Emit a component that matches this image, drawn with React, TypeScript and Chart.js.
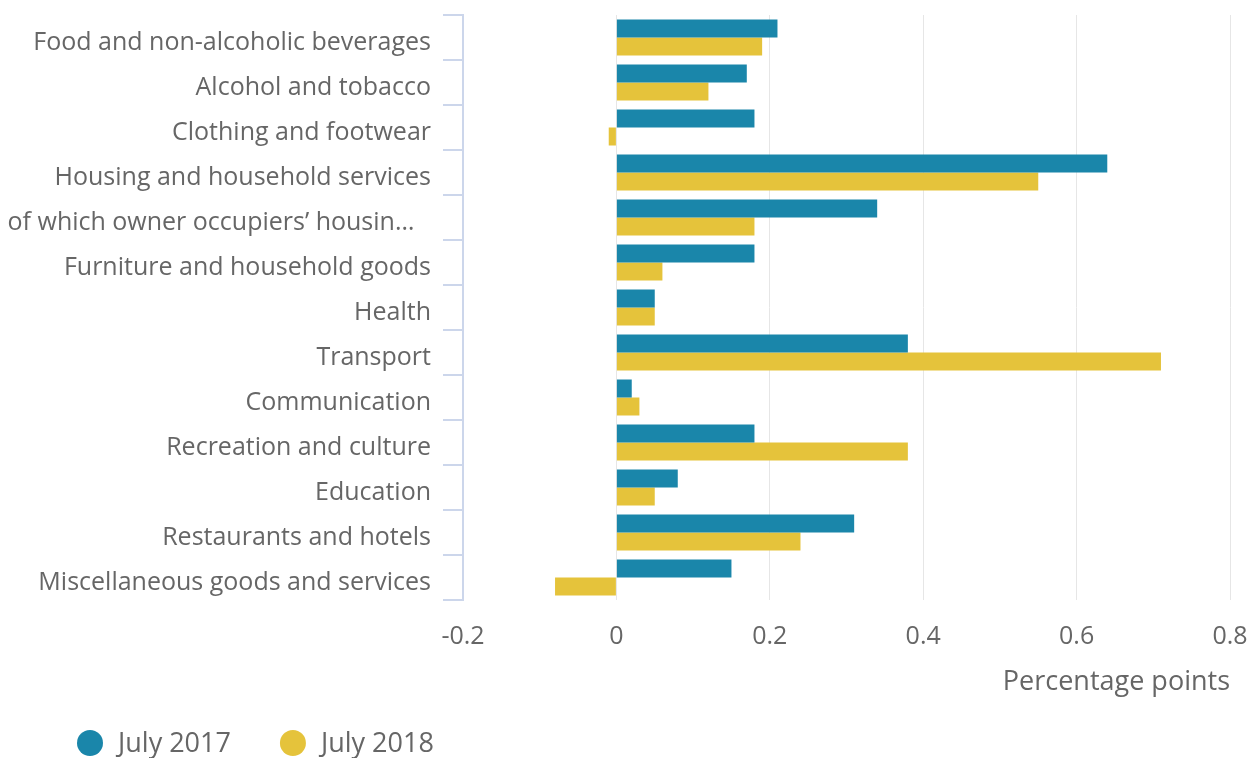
import React, { useEffect, useRef } from "react";
import { Chart, registerables } from "chart.js";

Chart.register(...registerables);

const categories = [
  "Food and non-alcoholic beverages",
  "Alcohol and tobacco",
  "Clothing and footwear",
  "Housing and household services",
  "of which owner occupiers’ housin…\u2002\u2009",
  "Furniture and household goods",
  "Health",
  "Transport",
  "Communication",
  "Recreation and culture",
  "Education",
  "Restaurants and hotels",
  "Miscellaneous goods and services",
];

const july2017 = [0.21, 0.17, 0.18, 0.64, 0.34, 0.18, 0.05, 0.38, 0.02, 0.18, 0.08, 0.31, 0.15];
const july2018 = [0.19, 0.12, -0.01, 0.55, 0.18, 0.06, 0.05, 0.71, 0.03, 0.38, 0.05, 0.24, -0.08];

const seriesNames = ["July 2017", "July 2018"];
const seriesColors = ["#1a86aa", "#e5c33b"];

const xTicks = [-0.2, 0, 0.2, 0.4, 0.6, 0.8];
const xTitle = "Percentage points";

const FONT = '"Open Sans", "Noto Sans", sans-serif';
const TEXT = "#666666";

const legendPlugin = {
  id: "bottomLegend",
  afterDraw(chart: any) {
    const ctx = chart.ctx;
    ctx.save();
    ctx.font = `27px ${FONT}`;
    ctx.textBaseline = "middle";
    ctx.textAlign = "left";
    let x = 77;
    const y = 743;
    chart.data.datasets.forEach((ds: any) => {
      ctx.fillStyle = ds.backgroundColor;
      ctx.beginPath();
      ctx.arc(x + 13, y, 13, 0, Math.PI * 2);
      ctx.fill();
      ctx.fillStyle = TEXT;
      ctx.fillText(ds.label, x + 41, y + 1);
      x += 41 + ctx.measureText(ds.label).width + 49;
    });
    ctx.restore();
  },
};

export default function App() {
  const ref = useRef<HTMLCanvasElement | null>(null);

  useEffect(() => {
    document.body.style.margin = "0";
    if (!ref.current) return;
    const chart = new Chart(ref.current, {
      type: "bar",
      data: {
        labels: categories,
        datasets: [
          {
            label: seriesNames[0],
            data: july2017,
            backgroundColor: seriesColors[0],
            categoryPercentage: 0.8,
            barPercentage: 1.0,
          },
          {
            label: seriesNames[1],
            data: july2018,
            backgroundColor: seriesColors[1],
            categoryPercentage: 0.8,
            barPercentage: 1.0,
          },
        ],
      },
      options: {
        indexAxis: "y",
        responsive: false,
        animation: false,
        layout: { padding: { left: 0, right: 20, top: 15, bottom: 58 } },
        plugins: {
          legend: { display: false },
          tooltip: { enabled: false },
        },
        scales: {
          x: {
            type: "linear",
            min: -0.2,
            max: 0.8,
            afterBuildTicks: (scale: any) => {
              scale.ticks = xTicks.map((v) => ({ value: v }));
            },
            afterFit: (scale: any) => {
              scale.height = 100;
              scale.paddingLeft = 0;
              scale.paddingRight = 0;
            },
            grid: { color: "#e6e6e6", lineWidth: 1, drawTicks: false },
            border: { display: false },
            ticks: {
              padding: 22,
              color: TEXT,
              font: { family: FONT, size: 25 },
              callback: (v: any) => String(Number(Number(v).toFixed(1))),
            },
            title: {
              display: true,
              text: xTitle,
              align: "end",
              color: TEXT,
              font: { family: FONT, size: 27 },
              padding: { top: 0, bottom: 1 },
            },
          },
          y: {
            afterFit: (scale: any) => {
              scale.width = 463;
              scale.paddingTop = 0;
              scale.paddingBottom = 0;
            },
            grid: {
              offset: true,
              drawOnChartArea: false,
              drawTicks: true,
              tickLength: 20,
              color: "#ccd6eb",
              lineWidth: 2,
            },
            border: { display: true, color: "#ccd6eb", width: 2 },
            ticks: {
              padding: 12,
              labelOffset: 5,
              color: TEXT,
              font: { family: FONT, size: 25 },
              autoSkip: false,
            },
          },
        },
      },
      plugins: [legendPlugin],
    });
    return () => chart.destroy();
  }, []);

  return (
    <div style={{ position: "absolute", left: 0, top: 0, width: 1250, height: 758, background: "#fff" }}>
      <canvas ref={ref} width={1250} height={758} />
    </div>
  );
}
